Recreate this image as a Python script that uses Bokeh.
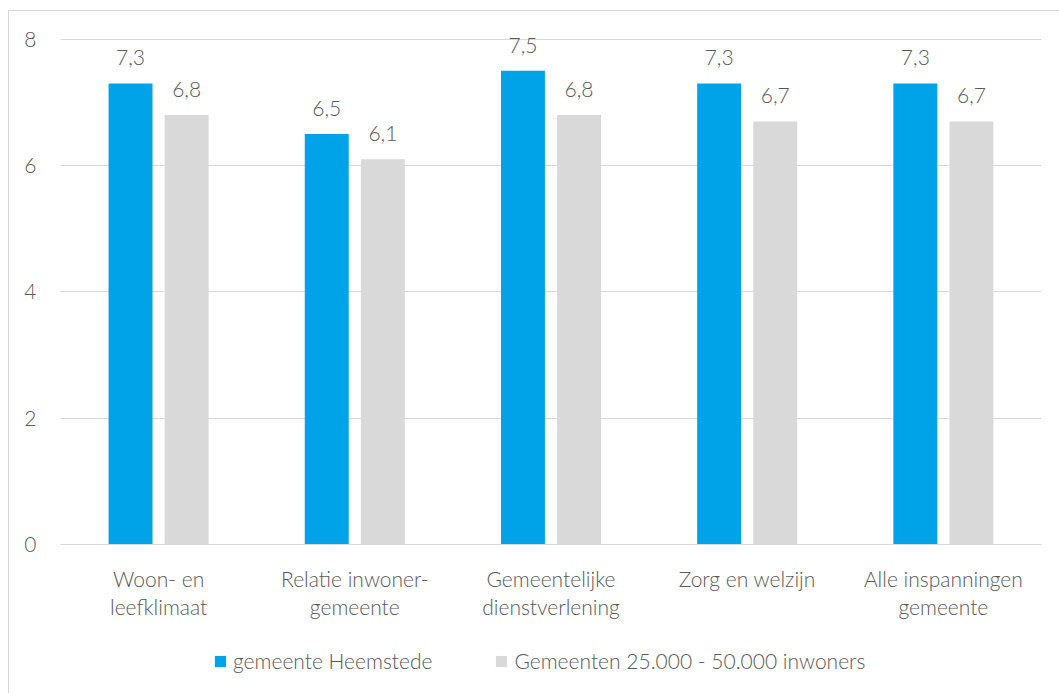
from bokeh.plotting import figure
from bokeh.layouts import column
from bokeh.models import FactorRange, Range1d, ColumnDataSource, Legend, LegendItem, FixedTicker, LabelSet
from bokeh.transform import dodge
from bokeh.embed import file_html
from bokeh.resources import INLINE
from bokeh.core.properties import value

categories = ["Woon- en\nleefklimaat", "Relatie inwoner-\ngemeente", "Gemeentelijke\ndienstverlening",
              "Zorg en welzijn", "Alle inspanningen\ngemeente"]
heemstede = [7.3, 6.5, 7.5, 7.3, 7.3]
gemeenten = [6.8, 6.1, 6.8, 6.7, 6.7]
series_names = ["gemeente Heemstede", "Gemeenten 25.000 - 50.000 inwoners"]
y_ticks = [0, 2, 4, 6, 8]

BLUE = "#00A2E8"
GRAY = "#D9D9D9"
TXT = "#595959"
FONT = "Lato Light"
FS = "21px"

src = ColumnDataSource(dict(
    cat=categories,
    h=heemstede,
    g=gemeenten,
    hl=[f"{v:.1f}".replace(".", ",") for v in heemstede],
    gl=[f"{v:.1f}".replace(".", ",") for v in gemeenten],
))

W = 1051
p = figure(x_range=FactorRange(*categories), y_range=Range1d(0, 8.44),
           width=W, height=630, output_backend="svg", toolbar_location=None,
           min_border_left=51, min_border_right=19, min_border_top=0, min_border_bottom=97)
p.outline_line_color = None
p.background_fill_color = "white"
p.border_fill_color = "white"

r1 = p.vbar(x=dodge("cat", -0.143, range=p.x_range), top="h", width=0.224, source=src,
            fill_color=BLUE, line_color=None)
r2 = p.vbar(x=dodge("cat", 0.143, range=p.x_range), top="g", width=0.224, source=src,
            fill_color=GRAY, line_color=None)

for col, lab, off in (("h", "hl", -0.143), ("g", "gl", 0.143)):
    ls = LabelSet(x=dodge("cat", off, range=p.x_range), y=col, text=lab, source=src,
                  text_align="center", text_baseline="alphabetic", y_offset=18,
                  text_font=value(FONT), text_font_size=FS, text_color=TXT)
    p.add_layout(ls)

p.xgrid.grid_line_color = None
p.ygrid.grid_line_color = GRAY
p.ygrid.ticker = FixedTicker(ticks=y_ticks)

p.yaxis.ticker = FixedTicker(ticks=y_ticks)
p.yaxis.axis_line_color = None
p.yaxis.major_tick_line_color = None
p.yaxis.minor_tick_line_color = None
p.yaxis.major_label_standoff = 18
p.yaxis.major_label_text_font = FONT
p.yaxis.major_label_text_font_size = FS
p.yaxis.major_label_text_color = TXT

p.xaxis.axis_line_color = GRAY
p.xaxis.axis_line_width = 1
p.xaxis.major_tick_line_color = None
p.xaxis.minor_tick_line_color = None
p.xaxis.major_label_standoff = 15
p.xaxis.major_label_text_font = FONT
p.xaxis.major_label_text_font_size = FS
p.xaxis.major_label_text_color = TXT
p.xaxis.major_label_text_line_height = 1.15

# legend strip below the chart (proxy glyphs have zero height, so nothing is drawn)
lf = figure(width=W, height=53, x_range=Range1d(0, 1), y_range=Range1d(0, 1), output_backend="svg",
            toolbar_location=None, min_border=0, min_border_left=0, min_border_right=0,
            min_border_top=0, min_border_bottom=0, x_axis_location=None, y_axis_location=None)
lf.outline_line_color = None
lf.background_fill_color = "white"
lf.border_fill_color = "white"
lf.grid.visible = False
lr1 = lf.vbar(x=[0.5], top=[0], bottom=[0], width=0.01, fill_color=BLUE, line_color=None)
lr2 = lf.vbar(x=[0.5], top=[0], bottom=[0], width=0.01, fill_color=GRAY, line_color=None)

legend = Legend(items=[LegendItem(label=series_names[0], renderers=[lr1]),
                       LegendItem(label=series_names[1], renderers=[lr2])],
                orientation="horizontal", location=(153, 21))
legend.glyph_width = 14
legend.glyph_height = 14
legend.label_standoff = 6
legend.spacing = 62
legend.padding = 0
legend.margin = 0
legend.border_line_color = None
legend.background_fill_alpha = 0
legend.label_text_font = FONT
legend.label_text_font_size = FS
legend.label_text_color = TXT
lf.add_layout(legend, "center")

layout = column(p, lf, spacing=0, margin=(10, 0, 0, 8),
                styles={"border-left": "1px solid #D9D9D9", "border-top": "1px solid #D9D9D9"})

open("out.html", "w").write(file_html(layout, INLINE))
